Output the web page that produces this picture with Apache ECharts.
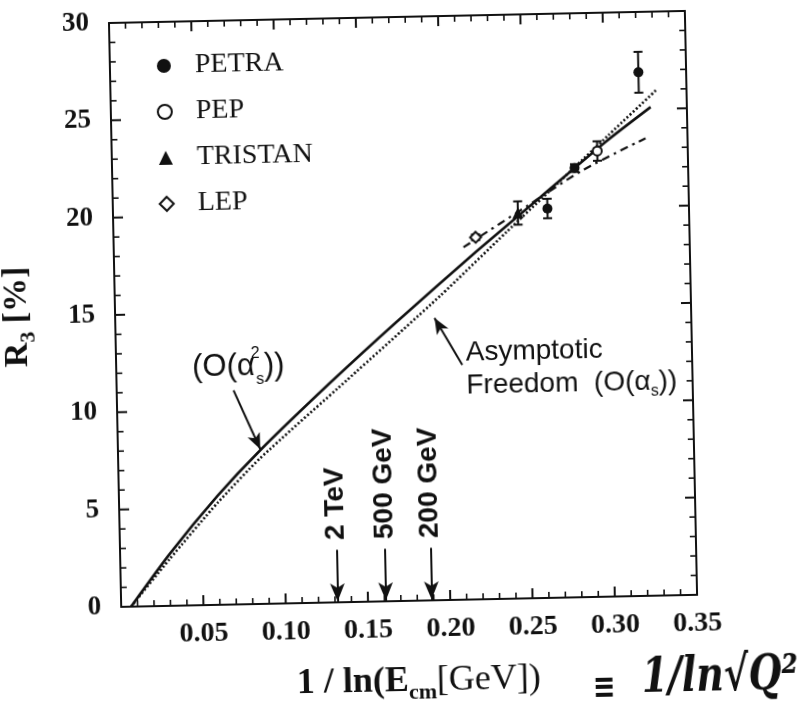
<!DOCTYPE html>
<html>
<head>
<meta charset="utf-8">
<script src="https://cdn.jsdelivr.net/npm/echarts@6/dist/echarts.min.js"></script>
<style>
html, body { margin: 0; padding: 0; background: #fff; overflow: hidden; }
/* the scanned figure sits slightly tilted, so the whole chart is tilted too */
#main { width: 798px; height: 711px; transform: rotate(-1.2deg); transform-origin: 50% 50%; }
</style>
</head>
<body>
<div id="main"></div>
<script>
// R3 [%] against 1/ln(Ecm): [x, R3, error]
var petra = [[0.321, 26.9, 1.05], [0.281, 22.05, 0.2], [0.264, 20.0, 0.5]];
var pep = [[0.295, 22.9, 0.5]];
var tristan = [[0.246, 19.8, 0.6]];
var lep = [[0.220, 18.6, 0.15]];

// O(as^2) prediction (solid)
var solidX = [0.006, 0.030, 0.060, 0.0865, 0.130, 0.171, 0.220, 0.260, 0.300, 0.328];
var solidY = [0.0, 2.65, 5.6, 7.9, 11.3, 14.35, 17.85, 20.6, 23.35, 25.1];
// asymptotic freedom O(as) (dotted)
var dottedX = [0.006, 0.030, 0.060, 0.0865, 0.140, 0.198, 0.239, 0.302, 0.332];
var dottedY = [0.0, 2.4, 5.25, 7.5, 11.4, 15.65, 18.85, 23.7, 26.0];
// fit through the data (dash-dot)
var fitX = [0.2125, 0.2526, 0.2864, 0.3245];
var fitY = [18.1, 20.2, 21.95, 23.5];

// energy marks on the x axis
var energyX = [0.1316, 0.1609, 0.1887];
var energyLabels = ['2 TeV', '500 GeV', '200 GeV'];

var xTicks = [0.05, 0.10, 0.15, 0.20, 0.25, 0.30, 0.35];
var xRange = [0, 0.35];
var yRange = [0, 30];

var ink = '#111';
var serif = 'Liberation Serif';
var sans = 'Liberation Sans';

function zip(xs, ys) {
  var out = [];
  for (var i = 0; i < xs.length; i++) out.push([xs[i], ys[i]]);
  return out;
}
function pts(arr) {
  return arr.map(function (d) { return [d[0], d[1]]; });
}

function errorBar(params, api) {
  var x = api.value(0), y = api.value(1), e = api.value(2);
  var top = api.coord([x, y + e]);
  var bot = api.coord([x, y - e]);
  var hw = 4.5;
  var st = { stroke: ink, lineWidth: 2 };
  return {
    type: 'group',
    children: [
      { type: 'line', shape: { x1: top[0], y1: top[1], x2: bot[0], y2: bot[1] }, style: st },
      { type: 'line', shape: { x1: top[0] - hw, y1: top[1], x2: top[0] + hw, y2: top[1] }, style: st },
      { type: 'line', shape: { x1: bot[0] - hw, y1: bot[1], x2: bot[0] + hw, y2: bot[1] }, style: st }
    ]
  };
}

function axisBase(extra) {
  var a = {
    type: 'value',
    axisLine: { show: true, onZero: false, lineStyle: { color: ink, width: 2 } },
    axisTick: { show: false },
    minorTick: { show: false },
    splitLine: { show: false },
    minorSplitLine: { show: false }
  };
  for (var k in extra) a[k] = extra[k];
  return a;
}

var chart = echarts.init(document.getElementById('main'));

var option = {
  animation: false,
  backgroundColor: '#fff',
  grid: { left: 116, right: 106, top: 17, bottom: 110, containLabel: false, outerBoundsMode: 'none' },
  legend: {
    data: ['PETRA', 'PEP', 'TRISTAN', 'LEP'],
    orient: 'vertical',
    left: 157,
    top: 42,
    itemWidth: 14,
    itemHeight: 14,
    itemGap: 18,
    selectedMode: false,
    textStyle: { fontFamily: serif, fontSize: 28, color: ink, lineHeight: 28, padding: [0, 0, 0, 19] }
  },
  xAxis: [
    axisBase({
      position: 'bottom', min: xRange[0], max: xRange[1], interval: 0.05,
      axisLabel: {
        margin: 15, color: ink, fontFamily: serif, fontWeight: 'bold', fontSize: 28,
        formatter: function (v) {
          for (var i = 0; i < xTicks.length; i++) {
            if (Math.abs(v - xTicks[i]) < 1e-6) return xTicks[i].toFixed(2);
          }
          return '';
        }
      }
    }),
    axisBase({ position: 'top', min: xRange[0], max: xRange[1], interval: 0.05, axisLabel: { show: false } })
  ],
  yAxis: [
    axisBase({
      position: 'left', min: yRange[0], max: yRange[1], interval: 5,
      axisLabel: { margin: 20, color: ink, fontFamily: serif, fontWeight: 'bold', fontSize: 27 },
      name: '{b|R}{s|3}{b| [%]}',
      nameLocation: 'middle',
      nameGap: 76,
      nameRotate: 90,
      nameMoveOverlap: false,
      nameTextStyle: {
        rich: {
          b: { fontFamily: serif, fontWeight: 'bold', fontSize: 34, color: ink, lineHeight: 44 },
          s: { fontFamily: serif, fontWeight: 'bold', fontSize: 22, color: ink, lineHeight: 22, verticalAlign: 'bottom' }
        }
      }
    }),
    axisBase({ position: 'right', min: yRange[0], max: yRange[1], interval: 5, axisLabel: { show: false } })
  ],
  graphic: [
    {
      type: 'text', id: 'xname', left: 290, top: 664,
      style: {
        text: '{b|1 / ln(E}{s|cm}{r|[GeV])}',
        rich: {
          b: { fontFamily: serif, fontWeight: 'bold', fontSize: 36, fill: ink, lineHeight: 44 },
          s: { fontFamily: serif, fontWeight: 'bold', fontSize: 22, fill: ink, lineHeight: 22, verticalAlign: 'bottom' },
          r: { fontFamily: serif, fontSize: 36, fill: ink, lineHeight: 44 }
        }
      }
    },
    {
      type: 'text', id: 'hand', left: 586, top: 660, scaleX: 0.9, scaleY: 1.15,
      style: {
        text: '{e|≡}{h|  1/ln√Q²}',
        rich: {
          e: { fontFamily: 'DejaVu Sans', fontWeight: 'bold', fontSize: 30, fill: ink, lineHeight: 36, verticalAlign: 'bottom' },
          h: { fontFamily: 'DejaVu Serif', fontStyle: 'italic', fontWeight: 'bold', fontSize: 42, fill: ink, lineHeight: 46 }
        }
      }
    }
  ],
  series: [
    {
      name: 'O(as2)', type: 'line', data: zip(solidX, solidY), smooth: 0.2,
      showSymbol: false, silent: true, z: 2,
      lineStyle: { color: ink, width: 2.6 }
    },
    {
      name: 'AF', type: 'line', data: zip(dottedX, dottedY), smooth: 0.2,
      showSymbol: false, silent: true, z: 2,
      lineStyle: { color: ink, width: 2.6, type: [2, 2.2] }
    },
    {
      name: 'fit', type: 'line', data: zip(fitX, fitY), smooth: 0.3,
      showSymbol: false, silent: true, z: 2,
      lineStyle: { color: ink, width: 2.2, type: [8, 5, 2.5, 5] }
    },
    {
      name: 'errors', type: 'custom', renderItem: errorBar, silent: true, z: 3,
      encode: { x: 0, y: 1 },
      data: petra.concat(pep, tristan, lep)
    },
    {
      name: 'PETRA', type: 'scatter', data: pts(petra), symbol: 'circle', symbolSize: 10, z: 4,
      itemStyle: { color: ink, opacity: 1 }
    },
    {
      name: 'PEP', type: 'scatter', data: pts(pep), symbol: 'emptyCircle', symbolSize: 9, z: 4,
      itemStyle: { color: ink, borderColor: ink, borderWidth: 2, opacity: 1 }
    },
    {
      name: 'TRISTAN', type: 'scatter', data: pts(tristan), symbol: 'triangle', symbolSize: 11, z: 4,
      itemStyle: { color: ink, opacity: 1 }
    },
    {
      name: 'LEP', type: 'scatter', data: pts(lep), symbol: 'emptyDiamond', symbolSize: 11, z: 4,
      itemStyle: { color: ink, borderColor: ink, borderWidth: 2, opacity: 1 }
    },
    {
      // arrows pointing down to the energies on the x axis, and to the two curves
      name: 'arrows', type: 'line', data: [], silent: true, z: 5,
      markLine: {
        silent: true, symbol: ['none', 'arrow'], symbolSize: [11, 18],
        lineStyle: { color: ink, width: 2, type: 'solid', opacity: 1 }, label: { show: false },
        data: energyX.map(function (x) { return [{ coord: [x, 2.7] }, { coord: [x, 0.05] }]; }).concat([
          [{ coord: [0.071, 11.0], symbolSize: [10, 16] }, { coord: [0.0865, 7.95], symbolSize: [10, 16] }],
          [{ coord: [0.2103, 12.06], symbolSize: [10, 16] }, { coord: [0.194, 14.5], symbolSize: [10, 16] }]
        ])
      }
    }
  ]
};

chart.setOption(option);

// pixel position of a data point, through the chart's own axes
function at(x, y) {
  return chart.convertToPixel({ xAxisIndex: 0, yAxisIndex: 0 }, [x, y]);
}

var extras = [];

// inward ticks on all four sides: major every 0.05 / 5, minor every 0.01 / 1
function tick(id, p, dx, dy, major) {
  extras.push({
    type: 'line', id: id, z: 100, silent: true,
    shape: { x1: p[0], y1: p[1], x2: p[0] + dx, y2: p[1] + dy },
    style: { stroke: ink, lineWidth: major ? 2 : 1.6 }
  });
}
var i, len, major;
for (i = 0; i <= 35; i++) {
  major = i % 5 === 0;
  len = major ? 10 : 6;
  tick('tb' + i, at(i / 100, yRange[0]), 0, -len, major);
  tick('tt' + i, at(i / 100, yRange[1]), 0, len, major);
}
for (i = 0; i <= 30; i++) {
  major = i % 5 === 0;
  len = major ? 10 : 6;
  tick('tl' + i, at(xRange[0], i), len, 0, major);
  tick('tr' + i, at(xRange[1], i), -len, 0, major);
}

// text notes placed at data positions
energyX.forEach(function (x, k) {
  var p = at(x, 3.2);
  extras.push({
    type: 'text', id: 'energy' + k, x: p[0], y: p[1], rotation: Math.PI / 2,
    style: {
      text: energyLabels[k], fill: ink, font: 'bold 28px "Liberation Sans"',
      align: 'left', verticalAlign: 'middle', textAlign: 'left', textVerticalAlign: 'middle'
    }
  });
});
var p1 = at(0.0742, 12.2);
extras.push({
  type: 'text', id: 'noteO2', x: p1[0], y: p1[1],
  style: {
    text: '{t|(O(α}{p|2}{q|s}{t|))}',
    align: 'center', verticalAlign: 'middle', textAlign: 'center', textVerticalAlign: 'middle',
    rich: {
      t: { fontFamily: sans, fontSize: 31, fill: ink, lineHeight: 42 },
      p: { fontFamily: sans, fontSize: 16, fill: ink, lineHeight: 17, width: 1, align: 'left', verticalAlign: 'top' },
      q: { fontFamily: sans, fontSize: 16, fill: ink, lineHeight: 17, verticalAlign: 'bottom' }
    }
  }
});
var p2 = at(0.2125, 13.5);
extras.push({
  type: 'text', id: 'noteAF', x: p2[0], y: p2[1],
  style: {
    text: '{t|Asymptotic}\n{t|Freedom  (O(α}{q|s}{t|))}',
    align: 'left', verticalAlign: 'top', textAlign: 'left', textVerticalAlign: 'top',
    rich: {
      t: { fontFamily: sans, fontSize: 28, fill: ink, lineHeight: 33 },
      q: { fontFamily: sans, fontSize: 16, fill: ink, lineHeight: 16, verticalAlign: 'bottom' }
    }
  }
});
chart.setOption({ graphic: extras });
</script>
</body>
</html>
